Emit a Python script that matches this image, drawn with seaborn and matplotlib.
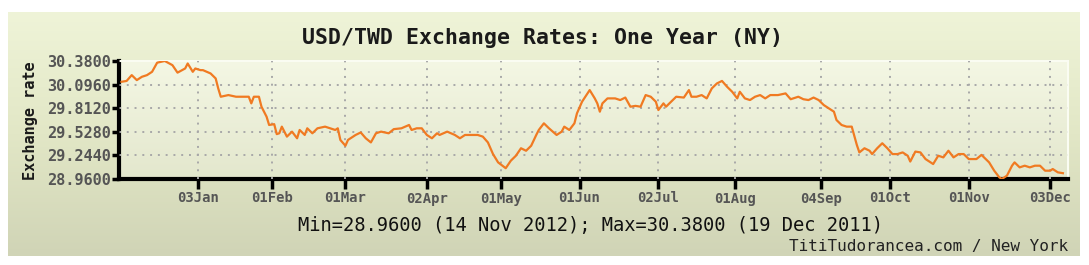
import numpy as np
import pandas as pd
import matplotlib
matplotlib.use("Agg")
import matplotlib.pyplot as plt
import seaborn as sns
from matplotlib.colors import LinearSegmentedColormap

# ---- data (days relative to 03 Jan 2012, USD/TWD rate) ----
day_offset = [-30, -28, -26, -24, -22, -20, -18, -16, -13, -10, -8, -5, -4, -2, -1,
              1, 2, 5, 7, 8, 9, 12, 15, 17, 20, 21, 22, 24, 25, 27, 28, 30, 31, 32,
              33, 35, 37, 39, 40, 42, 43, 45, 47, 50, 52, 54, 55, 56, 58, 59, 62, 64,
              66, 68, 70, 72, 75, 77, 80, 83, 84, 86, 88, 90, 92, 94, 95, 98, 101, 103,
              105, 107, 110, 112, 114, 116, 118, 121, 123, 125, 127, 129, 131, 133, 134,
              136, 138, 141, 143, 144, 146, 148, 149, 151, 154, 156, 157, 158, 159, 161,
              164, 166, 168, 170, 172, 174, 176, 178, 180, 181, 183, 184, 186, 188, 191,
              193, 194, 196, 198, 200, 202, 204, 206, 208, 210, 212, 213, 215, 217, 219,
              221, 223, 225, 228, 231, 233, 236, 238, 240, 242, 244, 246, 248, 250, 251,
              253, 255, 257, 259, 260, 262, 264, 265, 267, 269, 271, 273, 275, 277, 279,
              280, 282, 284, 286, 287, 289, 291, 293, 295, 297, 299, 301, 303, 306, 308,
              309, 311, 313, 315, 316, 318, 320, 321, 323, 325, 327, 329, 331, 333, 335,
              336, 338, 340]
rate = [30.13, 30.14, 30.21, 30.15, 30.19, 30.21, 30.25, 30.36, 30.38, 30.33, 30.24, 30.29, 30.35, 30.25, 30.29,
        30.27, 30.27, 30.23, 30.17, 30.05, 29.95, 29.97, 29.95, 29.95, 29.95, 29.87, 29.95, 29.95, 29.83, 29.71, 29.61, 29.62, 29.50, 29.51,
        29.59, 29.47, 29.53, 29.45, 29.55, 29.49, 29.57, 29.51, 29.57, 29.59, 29.57, 29.55, 29.57, 29.43, 29.36, 29.43, 29.49, 29.52,
        29.45, 29.40, 29.51, 29.53, 29.51, 29.56, 29.57, 29.61, 29.55, 29.57, 29.57, 29.49, 29.45, 29.51, 29.49, 29.53, 29.49, 29.45,
        29.49, 29.49, 29.49, 29.47, 29.40, 29.26, 29.16, 29.09, 29.18, 29.24, 29.33, 29.30, 29.36, 29.49, 29.55,
        29.63, 29.57, 29.49, 29.53, 29.59, 29.55, 29.63, 29.75, 29.89, 30.03, 29.93, 29.87, 29.77, 29.87, 29.93,
        29.93, 29.91, 29.94, 29.83, 29.84, 29.83, 29.97, 29.95, 29.89, 29.79, 29.87, 29.83, 29.89, 29.95, 29.94,
        30.03, 29.95, 29.95, 29.97, 29.93, 30.05, 30.11, 30.14, 30.07, 30.01, 29.93, 30.01, 29.93, 29.91, 29.95,
        29.97, 29.93, 29.97, 29.97, 29.99, 29.92, 29.95, 29.92, 29.91, 29.94, 29.91, 29.85, 29.81, 29.77, 29.67,
        29.61, 29.59, 29.59, 29.37, 29.28, 29.33, 29.30, 29.26, 29.33, 29.39, 29.33, 29.26, 29.26, 29.28, 29.24,
        29.17, 29.29, 29.28, 29.20, 29.18, 29.14, 29.24, 29.22, 29.30, 29.22, 29.26, 29.26, 29.20, 29.20, 29.25,
        29.22, 29.16, 29.06, 28.98, 28.96, 29.00, 29.12, 29.16, 29.10, 29.12, 29.10, 29.12, 29.12, 29.06, 29.06,
        29.08, 29.04, 29.03]

tick_dates = ["2012-01-03", "2012-02-01", "2012-03-01", "2012-04-02", "2012-05-01", "2012-06-01",
              "2012-07-02", "2012-08-01", "2012-09-04", "2012-10-01", "2012-11-01", "2012-12-03"]
tick_labels = ["03Jan", "01Feb", "01Mar", "02Apr", "01May", "01Jun",
               "02Jul", "01Aug", "04Sep", "01Oct", "01Nov", "03Dec"]
y_ticks = [28.96, 29.244, 29.528, 29.812, 30.096, 30.38]

title = "USD/TWD Exchange Rates: One Year (NY)"
summary = "Min=28.9600 (14 Nov 2012); Max=30.3800 (19 Dec 2011)"
credit = "TitiTudorancea.com / New York"

base = pd.Timestamp("2012-01-03")
df = pd.DataFrame({"date": base + pd.to_timedelta(day_offset, unit="D"), "rate": rate})

mono = "DejaVu Sans Mono"
W, H = 1089, 265
fig = plt.figure(figsize=(W / 100, H / 100), dpi=100)
fig.patch.set_facecolor("white")

# outer gradient panel
bg = fig.add_axes([8 / W, 1 - 256 / H, 1072 / W, 244 / H], zorder=-5)
grad = np.linspace(0, 1, 256).reshape(-1, 1)
cm_out = LinearSegmentedColormap.from_list("o", ["#eff4d8", "#e2e7c6", "#d0d4b6"])
bg.imshow(grad, aspect="auto", cmap=cm_out, extent=[0, 1, 0, 1], origin="upper")
bg.set_axis_off()

ax = fig.add_axes([119 / W, 1 - 179 / H, (1068 - 119) / W, (179 - 61) / H])
ax.set_facecolor("none")
cm_in = LinearSegmentedColormap.from_list("i", ["#f4f7e4", "#e3e7cd"])
ax.imshow(grad, aspect="auto", cmap=cm_in, extent=[0, 1, 0, 1], origin="upper",
          transform=ax.transAxes, zorder=0)

sns.lineplot(data=df, x="date", y="rate", ax=ax, color="#f07a22", linewidth=1.6, zorder=3)

ax.set_xlim(base + pd.Timedelta(days=-31), base + pd.Timedelta(days=342))
ax.set_ylim(28.96, 30.38)
ax.set_yticks(y_ticks)
ax.set_yticklabels([f"{v:.4f}" for v in y_ticks])
ax.set_xticks(pd.to_datetime(tick_dates))
ax.set_xticklabels(tick_labels)

ax.grid(True, linestyle=(0, (1, 3)), color="#a8a8a8", linewidth=1.4, zorder=1)
ygl = ax.yaxis.get_gridlines()
ygl[0].set_visible(False)
ygl[-1].set_visible(False)
ax.set_axisbelow(False)
for s in ["left", "bottom"]:
    ax.spines[s].set_color("black")
    ax.spines[s].set_linewidth(3)
for s in ["top", "right"]:
    ax.spines[s].set_color("#fafcf2")
    ax.spines[s].set_linewidth(1.5)

ax.tick_params(axis="x", length=7, width=2.5, color="black", labelsize=10, labelcolor="#555555", pad=2)
ax.tick_params(axis="y", length=5, width=2.5, color="black", labelsize=11, labelcolor="#555555", pad=1)
for lab in ax.get_xticklabels() + ax.get_yticklabels():
    lab.set_family(mono)
    lab.set_fontweight("bold")
ax.set_xlabel("")
ax.set_ylabel("")

fig.text(30 / W, 1 - 121 / H, "Exchange rate", rotation=90, ha="center", va="center",
         family=mono, fontweight="bold", fontsize=11, color="#1a1a1a")
fig.text(542 / W, 1 - 38 / H, title, ha="center", va="center", family=mono,
         fontweight="bold", fontsize=15.5, color="#1a1a1a")
fig.text(591 / W, 1 - 226 / H, summary, ha="center", va="center", family=mono,
         fontsize=13.5, color="#111111")
fig.text(1068 / W, 1 - 246 / H, credit, ha="right", va="center", family=mono,
         fontsize=11.5, color="#222222")

fig.savefig("out.png", dpi=100)
